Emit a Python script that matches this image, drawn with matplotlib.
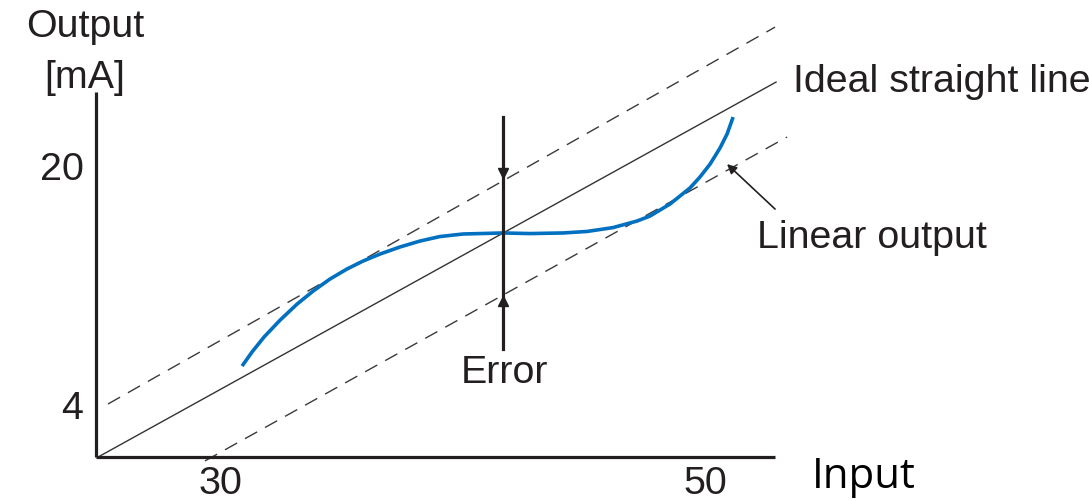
import matplotlib
matplotlib.use("Agg")
import matplotlib.pyplot as plt

# ---- data ----
x_ticks = [30, 50]
y_ticks = [4, 20]

ideal_x = [25.05, 52.93]
ideal_y = [0.52, 25.55]

upper_x = [25.38, 52.89]
upper_y = [4.0, 29.23]

lower_x = [29.38, 53.38]
lower_y = [0.19, 21.87]

curve_x = [30.91, 31.32, 31.82, 32.48, 33.18, 33.84, 34.54, 35.24, 35.90, 36.60,
           37.42, 38.25, 39.07, 40.02, 41.67, 42.78, 44.15, 45.13, 46.21, 47.20,
           47.73, 48.56, 49.38, 49.79, 50.21, 50.62, 50.91, 51.16]
curve_y = [6.54, 7.48, 8.49, 9.62, 10.69, 11.56, 12.37, 13.04, 13.57, 14.04,
           14.51, 14.91, 15.21, 15.38, 15.45, 15.41, 15.45, 15.55, 15.81, 16.25,
           16.58, 17.39, 18.46, 19.19, 20.06, 21.14, 22.07, 23.21]

error_x = 41.67
error_y = [7.68, 23.21]
error_marks_y = [19.46, 10.89]

W, H = 1089, 502
INK = "#231f20"
FONT = "Liberation Sans"
FS = 28.4

fig = plt.figure(figsize=(W / 100, H / 100), dpi=100)
ax = fig.add_axes([96 / W, (H - 458) / H, (775 - 96) / W, (458 - 93) / H])
ax.set_xlim(24.887, 52.887)
ax.set_ylim(0.453, 24.886)
for s in ["top", "right"]:
    ax.spines[s].set_visible(False)
for s in ["left", "bottom"]:
    ax.spines[s].set_linewidth(2.3)
    ax.spines[s].set_color(INK)
    ax.spines[s].set_capstyle("butt")

ax.set_xticks(x_ticks)
ax.set_yticks(y_ticks)
ax.set_xticklabels([str(v) for v in x_ticks], fontsize=FS, family=FONT, color=INK)
ax.set_yticklabels([str(v) for v in y_ticks], fontsize=FS, family=FONT, color=INK)
ax.tick_params(axis="both", length=0)
ax.tick_params(axis="y", pad=9)
ax.tick_params(axis="x", pad=6)

# dashed tolerance lines
for xs, ys in [(upper_x, upper_y), (lower_x, lower_y)]:
    ln, = ax.plot(xs, ys, color="#3a3a3a", lw=1.0, clip_on=False)
    ln.set_dashes([10.0, 6.5])

# ideal straight line
ax.plot(ideal_x, ideal_y, color="#333333", lw=1.0, clip_on=False)

# linear output curve
ax.plot(curve_x, curve_y, color="#0070c0", lw=2.6, clip_on=False,
        solid_joinstyle="round", solid_capstyle="butt")

# error bar
ax.plot([error_x, error_x], error_y, color=INK, lw=2.3, clip_on=False)
ax.plot([error_x], [error_marks_y[0]], marker="v", ms=7, color=INK, clip_on=False)
ax.plot([error_x], [error_marks_y[1]], marker="^", ms=7, color=INK, clip_on=False)

# leader for "Linear output"
ax.annotate("", xy=(50.91, 20.06), xytext=(52.89, 17.05),
            arrowprops=dict(arrowstyle="-|>", color=INK, lw=1.2,
                            mutation_scale=14, shrinkA=0, shrinkB=0),
            annotation_clip=False)

def ftext(px, py, s, ha="left", **kw):
    kw.setdefault("family", FONT)
    kw.setdefault("fontsize", FS)
    kw.setdefault("color", INK)
    fig.text(px / W, (H - py) / H, s, ha=ha, va="baseline", **kw)

ftext(85, 37, "Output", ha="center")
ftext(85, 88, "[mA]", ha="center")
ftext(793, 92, "Ideal straight line")
ftext(757, 248, "Linear output")
ftext(504, 383, "Error", ha="center")
ftext(812, 488, "Input", family="Open Sans", fontsize=30.2, color="black")

fig.savefig("out.png", dpi=100)
